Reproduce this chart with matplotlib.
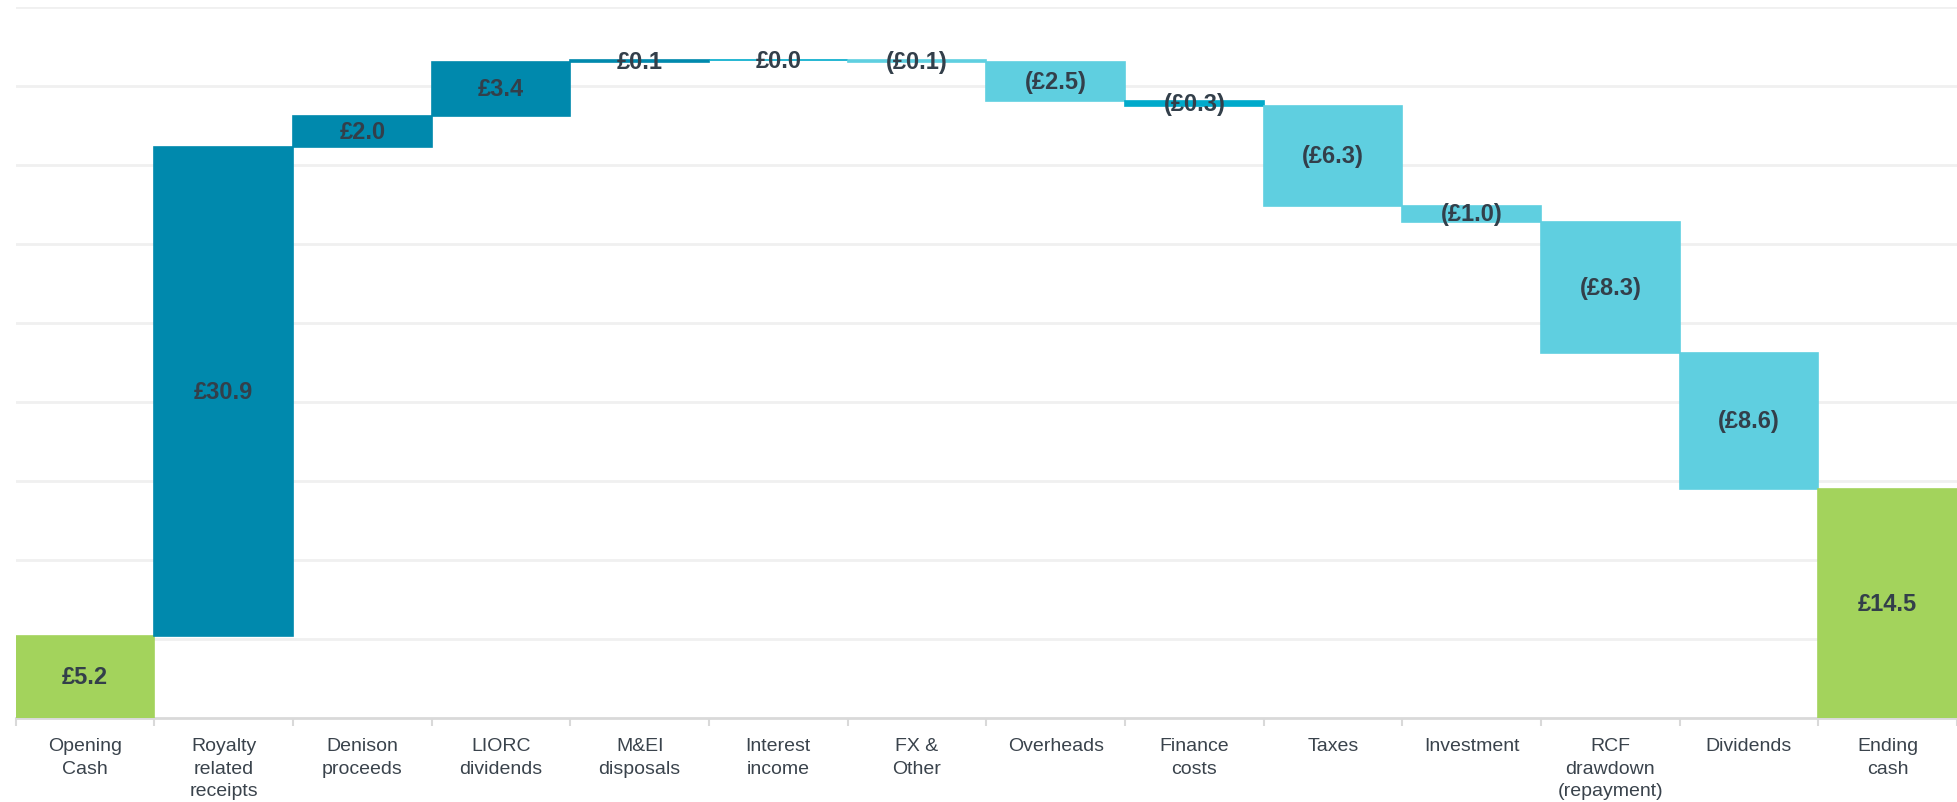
import numpy as np
import matplotlib
matplotlib.use("Agg")
import matplotlib.pyplot as plt

plt.rcParams["font.family"] = ["Liberation Sans", "DejaVu Sans"]

categories = [
    "Opening\nCash",
    "Royalty\nrelated\nreceipts",
    "Denison\nproceeds",
    "LIORC\ndividends",
    "M&EI\ndisposals",
    "Interest\nincome",
    "FX &\nOther",
    "Overheads",
    "Finance\ncosts",
    "Taxes",
    "Investment",
    "RCF\ndrawdown\n(repayment)",
    "Dividends",
    "Ending\ncash",
]
values = [5.2, 30.9, 2.0, 3.4, 0.1, 0.0, -0.1, -2.5, -0.3, -6.3, -1.0, -8.3, -8.6, 14.5]
kinds = ["total", "up", "up", "up", "up", "mid", "down", "down", "mid",
         "down", "down", "down", "down", "total"]
value_labels = ["£5.2", "£30.9", "£2.0", "£3.4", "£0.1", "£0.0", "(£0.1)", "(£2.5)",
                "(£0.3)", "(£6.3)", "(£1.0)", "(£8.3)", "(£8.6)", "£14.5"]

colours = {"total": "#A3D35C", "up": "#0089AD", "down": "#5FCFE0", "mid": "#00AACB"}
text_col = "#333F4A"

# running totals for the floating bars
bottoms = []
heights = []
running = 0.0
for v, k in zip(values, kinds):
    if k == "total":
        bottoms.append(0.0)
        heights.append(v)
        running = v
    else:
        bottoms.append(min(running, running + v))
        heights.append(abs(v))
        running = running + v

x = np.arange(len(categories))

fig = plt.figure(figsize=(19.57, 8.03), dpi=100)
ax = fig.add_axes([0.008, 0.1046, 0.992, 0.886])

ax.bar(x, heights, bottom=bottoms, width=1.0,
       color=[colours[k] for k in kinds],
       edgecolor=[colours[k] for k in kinds], linewidth=1.2, zorder=3)

for xi, b, h, lab in zip(x, bottoms, heights, value_labels):
    ax.text(xi, b + h / 2, lab, ha="center", va="center", fontsize=17,
            fontweight="bold", color=text_col, zorder=4)

ax.set_xlim(-0.5, len(categories) - 0.5)
ax.set_ylim(0, 45)
ax.set_yticks(np.arange(5, 50, 5))
ax.yaxis.grid(True, color="#F0F0F0", linewidth=2)
ax.set_axisbelow(True)
ax.tick_params(axis="y", left=False, labelleft=False)

ax.set_xticks(np.arange(-0.5, len(categories), 1.0))
ax.set_xticklabels([])
ax.set_xticks(x, minor=True)
ax.set_xticklabels(categories, minor=True, fontsize=14, color="#3A434C", linespacing=1.4)
ax.tick_params(axis="x", which="major", length=6, width=1.5, color="#D9D9D9", direction="out")
ax.tick_params(axis="x", which="minor", length=0, pad=14)

for s in ["top", "right", "left"]:
    ax.spines[s].set_visible(False)
ax.spines["bottom"].set_color("#D9D9D9")
ax.spines["bottom"].set_linewidth(2)

fig.savefig("out.png", dpi=100)
